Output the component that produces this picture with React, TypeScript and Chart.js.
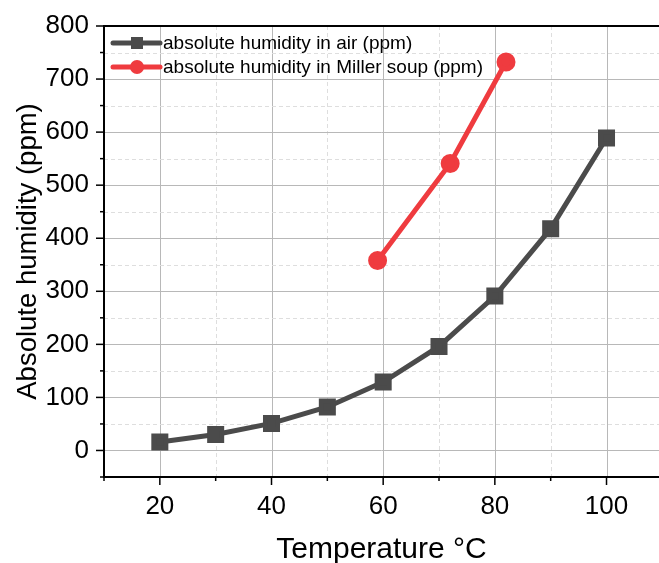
import React, { useEffect, useRef } from 'react';
import { Chart, registerables } from 'chart.js';

Chart.register(...registerables);

const airTemps = [20, 30, 40, 50, 60, 70, 80, 90, 100];
const airHumidity = [16, 30, 51, 82, 129, 196, 291, 418, 589];
const soupTemps = [59, 72, 82];
const soupHumidity = [358, 541, 732];

const xMajorTicks = [20, 40, 60, 80, 100];
const xMinorTicks = [10, 30, 50, 70, 90];
const yMajorTicks = [0, 100, 200, 300, 400, 500, 600, 700, 800];
const yMinorTicks = [-50, 50, 150, 250, 350, 450, 550, 650, 750];

const legendLabels = ['absolute humidity in air (ppm)', 'absolute humidity in Miller soup (ppm)'];
const xTitle = 'Temperature °C';
const yTitle = 'Absolute humidity (ppm)';

const GRAY = '#4b4b4b';
const RED = '#ef3b3f';
const FONT = '"Liberation Sans", Arial, sans-serif';
const W = 659;
const H = 563;

export default function App() {
  const ref = useRef<HTMLCanvasElement>(null);

  useEffect(() => {
    document.documentElement.style.overflow = 'hidden';
    document.body.style.overflow = 'hidden';
    document.body.style.margin = '0';
    const canvas = ref.current;
    if (!canvas) return;

    const decor = {
      id: 'decor',
      beforeDraw(chart: any) {
        const { ctx, chartArea: a, scales } = chart;
        const xs = scales.x;
        const ys = scales.y;
        ctx.save();
        ctx.lineWidth = 1;
        const vline = (v: number, major: boolean) => {
          const px = Math.round(xs.getPixelForValue(v)) + 0.5;
          ctx.strokeStyle = major ? '#b8b8b8' : '#dedede';
          ctx.setLineDash(major ? [] : [4, 3]);
          ctx.beginPath();
          ctx.moveTo(px, a.top);
          ctx.lineTo(px, a.bottom);
          ctx.stroke();
        };
        const hline = (v: number, major: boolean) => {
          const py = Math.round(ys.getPixelForValue(v)) + 0.5;
          ctx.strokeStyle = major ? '#b8b8b8' : '#dedede';
          ctx.setLineDash(major ? [] : [4, 3]);
          ctx.beginPath();
          ctx.moveTo(a.left, py);
          ctx.lineTo(a.right, py);
          ctx.stroke();
        };
        xMajorTicks.forEach((v) => vline(v, true));
        xMinorTicks.filter((v) => v > xs.min).forEach((v) => vline(v, false));
        yMajorTicks.filter((v) => v < ys.max).forEach((v) => hline(v, true));
        yMinorTicks.filter((v) => v > ys.min).forEach((v) => hline(v, false));
        ctx.restore();
      },
      afterDraw(chart: any) {
        const { ctx, chartArea: a, scales } = chart;
        const xs = scales.x;
        const ys = scales.y;
        ctx.save();
        ctx.setLineDash([]);
        ctx.strokeStyle = '#000';
        ctx.lineWidth = 2;
        // top frame
        ctx.beginPath();
        ctx.moveTo(a.left, a.top);
        ctx.lineTo(a.right, a.top);
        ctx.stroke();
        // tick marks
        ctx.lineWidth = 1.5;
        const yTick = (v: number, len: number) => {
          const py = ys.getPixelForValue(v);
          ctx.beginPath();
          ctx.moveTo(a.left - len, py);
          ctx.lineTo(a.left, py);
          ctx.stroke();
        };
        const xTick = (v: number, len: number) => {
          const px = xs.getPixelForValue(v);
          ctx.beginPath();
          ctx.moveTo(px, a.bottom);
          ctx.lineTo(px, a.bottom + len);
          ctx.stroke();
        };
        yMajorTicks.forEach((v) => yTick(v, 8));
        yMinorTicks.forEach((v) => yTick(v, 4));
        xMajorTicks.forEach((v) => xTick(v, 8));
        xMinorTicks.forEach((v) => xTick(v, 4));

        // legend
        const rows = [
          { color: GRAY, style: 'rect', label: legendLabels[0], dy: 17 },
          { color: RED, style: 'circle', label: legendLabels[1], dy: 41 },
        ];
        rows.forEach((r) => {
          const yy = a.top + r.dy;
          const x0 = a.left + 9;
          const x1 = a.left + 56;
          const xm = a.left + 33;
          ctx.strokeStyle = r.color;
          ctx.lineWidth = 5;
          ctx.lineCap = 'round';
          ctx.beginPath();
          ctx.moveTo(x0, yy);
          ctx.lineTo(x1, yy);
          ctx.stroke();
          ctx.fillStyle = r.color;
          if (r.style === 'rect') {
            ctx.fillRect(xm - 6, yy - 6, 12, 12);
          } else {
            ctx.beginPath();
            ctx.arc(xm, yy, 7, 0, Math.PI * 2);
            ctx.fill();
          }
          ctx.fillStyle = '#000';
          ctx.font = `19px ${FONT}`;
          ctx.textBaseline = 'middle';
          ctx.textAlign = 'left';
          ctx.fillText(r.label, a.left + 59, yy + 1);
        });
        ctx.restore();
      },
    };

    const chart = new Chart(canvas, {
      type: 'line',
      data: {
        datasets: [
          {
            label: legendLabels[0],
            data: airTemps.map((t, i) => ({ x: t, y: airHumidity[i] })),
            borderColor: GRAY,
            backgroundColor: GRAY,
            borderWidth: 5,
            pointStyle: 'rect',
            pointRadius: 8.5,
            pointHoverRadius: 8.5,
            tension: 0,
          },
          {
            label: legendLabels[1],
            data: soupTemps.map((t, i) => ({ x: t, y: soupHumidity[i] })),
            borderColor: RED,
            backgroundColor: RED,
            borderWidth: 5,
            pointStyle: 'circle',
            pointRadius: 7,
            pointHoverRadius: 7,
            tension: 0,
          },
        ],
      },
      options: {
        responsive: false,
        animation: false,
        events: [],
        layout: { autoPadding: false, padding: { top: 26, left: 0, right: 0, bottom: 0 } },
        plugins: { legend: { display: false }, tooltip: { enabled: false } },
        scales: {
          x: {
            type: 'linear',
            min: 10,
            max: 109.4,
            afterBuildTicks: (s: any) => {
              s.ticks = xMajorTicks.map((v) => ({ value: v }));
            },
            afterFit: (s: any) => {
              s.height = 86;
              s.paddingLeft = 0;
              s.paddingRight = 0;
            },
            grid: { display: false, drawTicks: false },
            border: { display: true, color: '#000', width: 2 },
            ticks: {
              color: '#000',
              font: { family: FONT, size: 26 },
              padding: 14,
              maxRotation: 0,
              autoSkip: false,
            },
            title: {
              display: true,
              text: xTitle,
              color: '#000',
              font: { family: FONT, size: 30 },
              padding: { top: 0, bottom: -5 },
            },
          },
          y: {
            type: 'linear',
            min: -50,
            max: 800,
            afterBuildTicks: (s: any) => {
              s.ticks = yMajorTicks.map((v) => ({ value: v }));
            },
            afterFit: (s: any) => {
              s.width = 104;
              s.paddingTop = 0;
              s.paddingBottom = 0;
            },
            grid: { display: false, drawTicks: false },
            border: { display: true, color: '#000', width: 2 },
            ticks: {
              color: '#000',
              font: { family: FONT, size: 26 },
              padding: 15,
              autoSkip: false,
            },
            title: {
              display: true,
              text: yTitle,
              color: '#000',
              font: { family: FONT, size: 27.5 },
              padding: { top: 12, bottom: 0 },
            },
          },
        },
      },
      plugins: [decor],
    } as any);

    return () => chart.destroy();
  }, []);

  return (
    <div style={{ position: 'fixed', left: 0, top: 0, width: W, height: H, background: '#fff', overflow: 'hidden' }}>
      <canvas ref={ref} width={W} height={H} style={{ display: 'block', width: W + 'px', height: H + 'px' }} />
    </div>
  );
}
